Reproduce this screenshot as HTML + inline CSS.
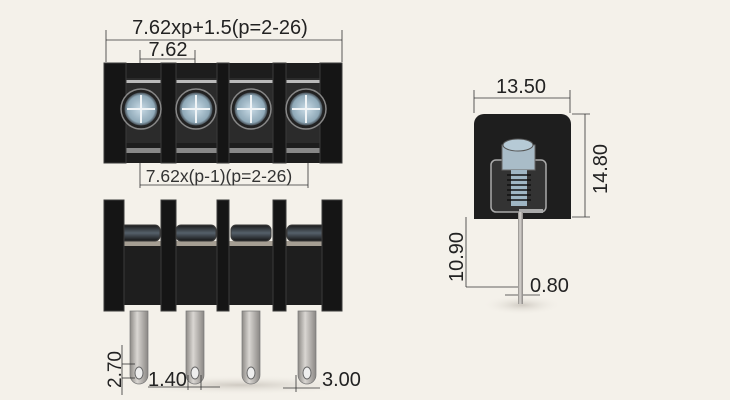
<!DOCTYPE html>
<html><head><style>
body{margin:0;background:#f4f1ea;}
svg{display:block;font-family:"Liberation Sans",sans-serif;}
</style></head><body>
<svg width="730" height="400" viewBox="0 0 730 400" xmlns="http://www.w3.org/2000/svg">
<defs>
<linearGradient id="pin" x1="0" x2="1"><stop offset="0" stop-color="#8d8a86"/><stop offset="0.4" stop-color="#d9d6d2"/><stop offset="1" stop-color="#8a8784"/></linearGradient>
<radialGradient id="scr"><stop offset="0" stop-color="#c9dbe6"/><stop offset="0.8" stop-color="#8fa9b8"/><stop offset="1" stop-color="#3a4046"/></radialGradient>
<radialGradient id="sh"><stop offset="0" stop-color="#cfcac2"/><stop offset="1" stop-color="#f4f1ea" stop-opacity="0"/></radialGradient>
<linearGradient id="hd" x1="0" y1="0" x2="0" y2="1"><stop offset="0" stop-color="#1a1a1a"/><stop offset="0.5" stop-color="#55606a"/><stop offset="1" stop-color="#151515"/></linearGradient>
</defs>
<rect width="730" height="400" fill="#f4f1ea"/>
<ellipse cx="240" cy="385" rx="130" ry="10" fill="url(#sh)"/>
<ellipse cx="522" cy="305" rx="40" ry="10" fill="url(#sh)"/>

<!-- TOP VIEW -->
<g stroke="#333" stroke-width="0.8" fill="none">
<line x1="106" y1="30" x2="106" y2="62"/><line x1="342" y1="30" x2="342" y2="62"/>
<line x1="106" y1="40" x2="342" y2="40"/>
<line x1="140" y1="50" x2="140" y2="90"/><line x1="195" y1="50" x2="195" y2="70"/>
<line x1="140" y1="59" x2="195" y2="59"/>
<line x1="140" y1="150" x2="140" y2="188"/><line x1="308" y1="150" x2="308" y2="188"/>
<line x1="140" y1="185" x2="308" y2="185"/>
</g>
<text x="220" y="34" font-size="20" text-anchor="middle" fill="#222">7.62xp+1.5(p=2-26)</text>
<text x="168" y="56" font-size="20" text-anchor="middle" fill="#222">7.62</text>
<text x="219" y="182" font-size="17.5" text-anchor="middle" fill="#333">7.62x(p-1)(p=2-26)</text>

<rect x="104" y="63" width="238" height="100" fill="#1d1d1d"/>
<rect x="118" y="78" width="210" height="65" fill="#2b2b2b"/>
<rect x="118" y="80" width="210" height="3" fill="#bbb"/>
<rect x="104" y="148" width="238" height="5" fill="#888"/>
<g fill="#151515" stroke="#3a3a3a" stroke-width="1">
<rect x="104" y="63" width="22" height="100"/><rect x="161" y="63" width="15" height="100"/>
<rect x="217" y="63" width="12" height="100"/><rect x="273" y="63" width="13" height="100"/>
<rect x="320" y="63" width="22" height="100"/>
</g>
<g stroke="#888" stroke-width="1.5">
<circle cx="141" cy="109" r="20" fill="#222"/><circle cx="196" cy="109" r="20" fill="#222"/>
<circle cx="251" cy="109" r="20" fill="#222"/><circle cx="306" cy="109" r="20" fill="#222"/>
</g>
<g stroke="#222" stroke-width="1">
<circle cx="141" cy="109" r="17" fill="url(#scr)"/><circle cx="196" cy="109" r="17" fill="url(#scr)"/>
<circle cx="251" cy="109" r="17" fill="url(#scr)"/><circle cx="306" cy="109" r="17" fill="url(#scr)"/>
</g>
<g stroke="#f0f4f6" stroke-width="2">
<path d="M141 95v28M127 109h28M196 95v28M182 109h28M251 95v28M237 109h28M306 95v28M292 109h28"/>
</g>

<!-- FRONT VIEW -->
<rect x="104" y="241" width="238" height="64" fill="#1e1e1e"/>
<rect x="104" y="241" width="238" height="5" fill="#a59e93"/>
<g fill="url(#hd)" stroke="#3a3a3a"><rect x="120" y="225" width="40" height="16" rx="5"/><rect x="176" y="225" width="40" height="16" rx="5"/><rect x="231" y="225" width="40" height="16" rx="5"/><rect x="287" y="225" width="40" height="16" rx="5"/></g>
<g fill="#151515" stroke="#3a3a3a"><rect x="104" y="200" width="20" height="111"/><rect x="161" y="200" width="15" height="111"/><rect x="217" y="200" width="12" height="111"/><rect x="273" y="200" width="13" height="111"/><rect x="322" y="200" width="20" height="111"/></g>
<g fill="url(#pin)" stroke="#777" stroke-width="0.7">
<path d="M130 311h18v64a9 9 0 0 1-18 0z"/><path d="M186 311h18v64a9 9 0 0 1-18 0z"/>
<path d="M242 311h18v64a9 9 0 0 1-18 0z"/><path d="M298 311h18v64a9 9 0 0 1-18 0z"/>
</g>
<g fill="#eee" stroke="#666"><ellipse cx="139" cy="373" rx="4" ry="6"/><ellipse cx="195" cy="373" rx="4" ry="6"/><ellipse cx="251" cy="373" rx="4" ry="6"/><ellipse cx="307" cy="373" rx="4" ry="6"/></g>
<g stroke="#333" stroke-width="0.8" fill="none">
<line x1="122" y1="345" x2="122" y2="395"/><line x1="122" y1="364" x2="135" y2="364"/><line x1="122" y1="378" x2="135" y2="378"/>
<line x1="148" y1="387" x2="220" y2="387"/><line x1="188" y1="375" x2="188" y2="390"/><line x1="201" y1="375" x2="201" y2="390"/>
<line x1="283" y1="388" x2="320" y2="388"/><line x1="296" y1="375" x2="296" y2="392"/>
</g>
<text transform="translate(121,388) rotate(-90)" font-size="19" fill="#222">2.70</text>
<text x="148" y="386" font-size="20" fill="#222">1.40</text>
<text x="322" y="386" font-size="20" fill="#222">3.00</text>

<!-- SIDE VIEW -->
<g stroke="#333" stroke-width="0.8" fill="none">
<line x1="474" y1="90" x2="474" y2="113"/><line x1="570" y1="90" x2="570" y2="113"/>
<line x1="474" y1="98" x2="570" y2="98"/>
<line x1="572" y1="114" x2="590" y2="114"/><line x1="572" y1="217" x2="590" y2="217"/><line x1="585" y1="114" x2="585" y2="217"/>
<line x1="466" y1="217" x2="466" y2="287"/><line x1="466" y1="287" x2="520" y2="287"/>
<line x1="505" y1="295" x2="540" y2="295"/>
</g>
<text x="521" y="93" font-size="20" text-anchor="middle" fill="#222">13.50</text>
<text transform="translate(607,194) rotate(-90)" font-size="20" fill="#222">14.80</text>
<text transform="translate(463,282) rotate(-90)" font-size="20" fill="#222">10.90</text>
<text x="530" y="292" font-size="20" fill="#222">0.80</text>
<path d="M474 124a10 10 0 0 1 10-10h77a10 10 0 0 1 10 10v95h-97z" fill="#1e1e1e"/>
<rect x="491" y="160" width="55" height="52" fill="#333" stroke="#aaa" stroke-width="1.5" rx="5"/>
<rect x="502" y="145" width="33" height="25" fill="#a9bcc8" stroke="#666"/>
<ellipse cx="518" cy="145" rx="15" ry="6" fill="#b6cad6" stroke="#555"/>
<rect x="511" y="170" width="16" height="36" fill="#9fb6c4"/>
<g stroke="#111" stroke-width="1.5"><path d="M507 175h24M507 180h24M507 185h24M507 190h24M507 195h24M507 200h24"/></g>
<rect x="519" y="209" width="24" height="4" fill="#aaa"/>
<rect x="518" y="212" width="5" height="92" fill="url(#pin)"/>
</svg>
</body></html>
